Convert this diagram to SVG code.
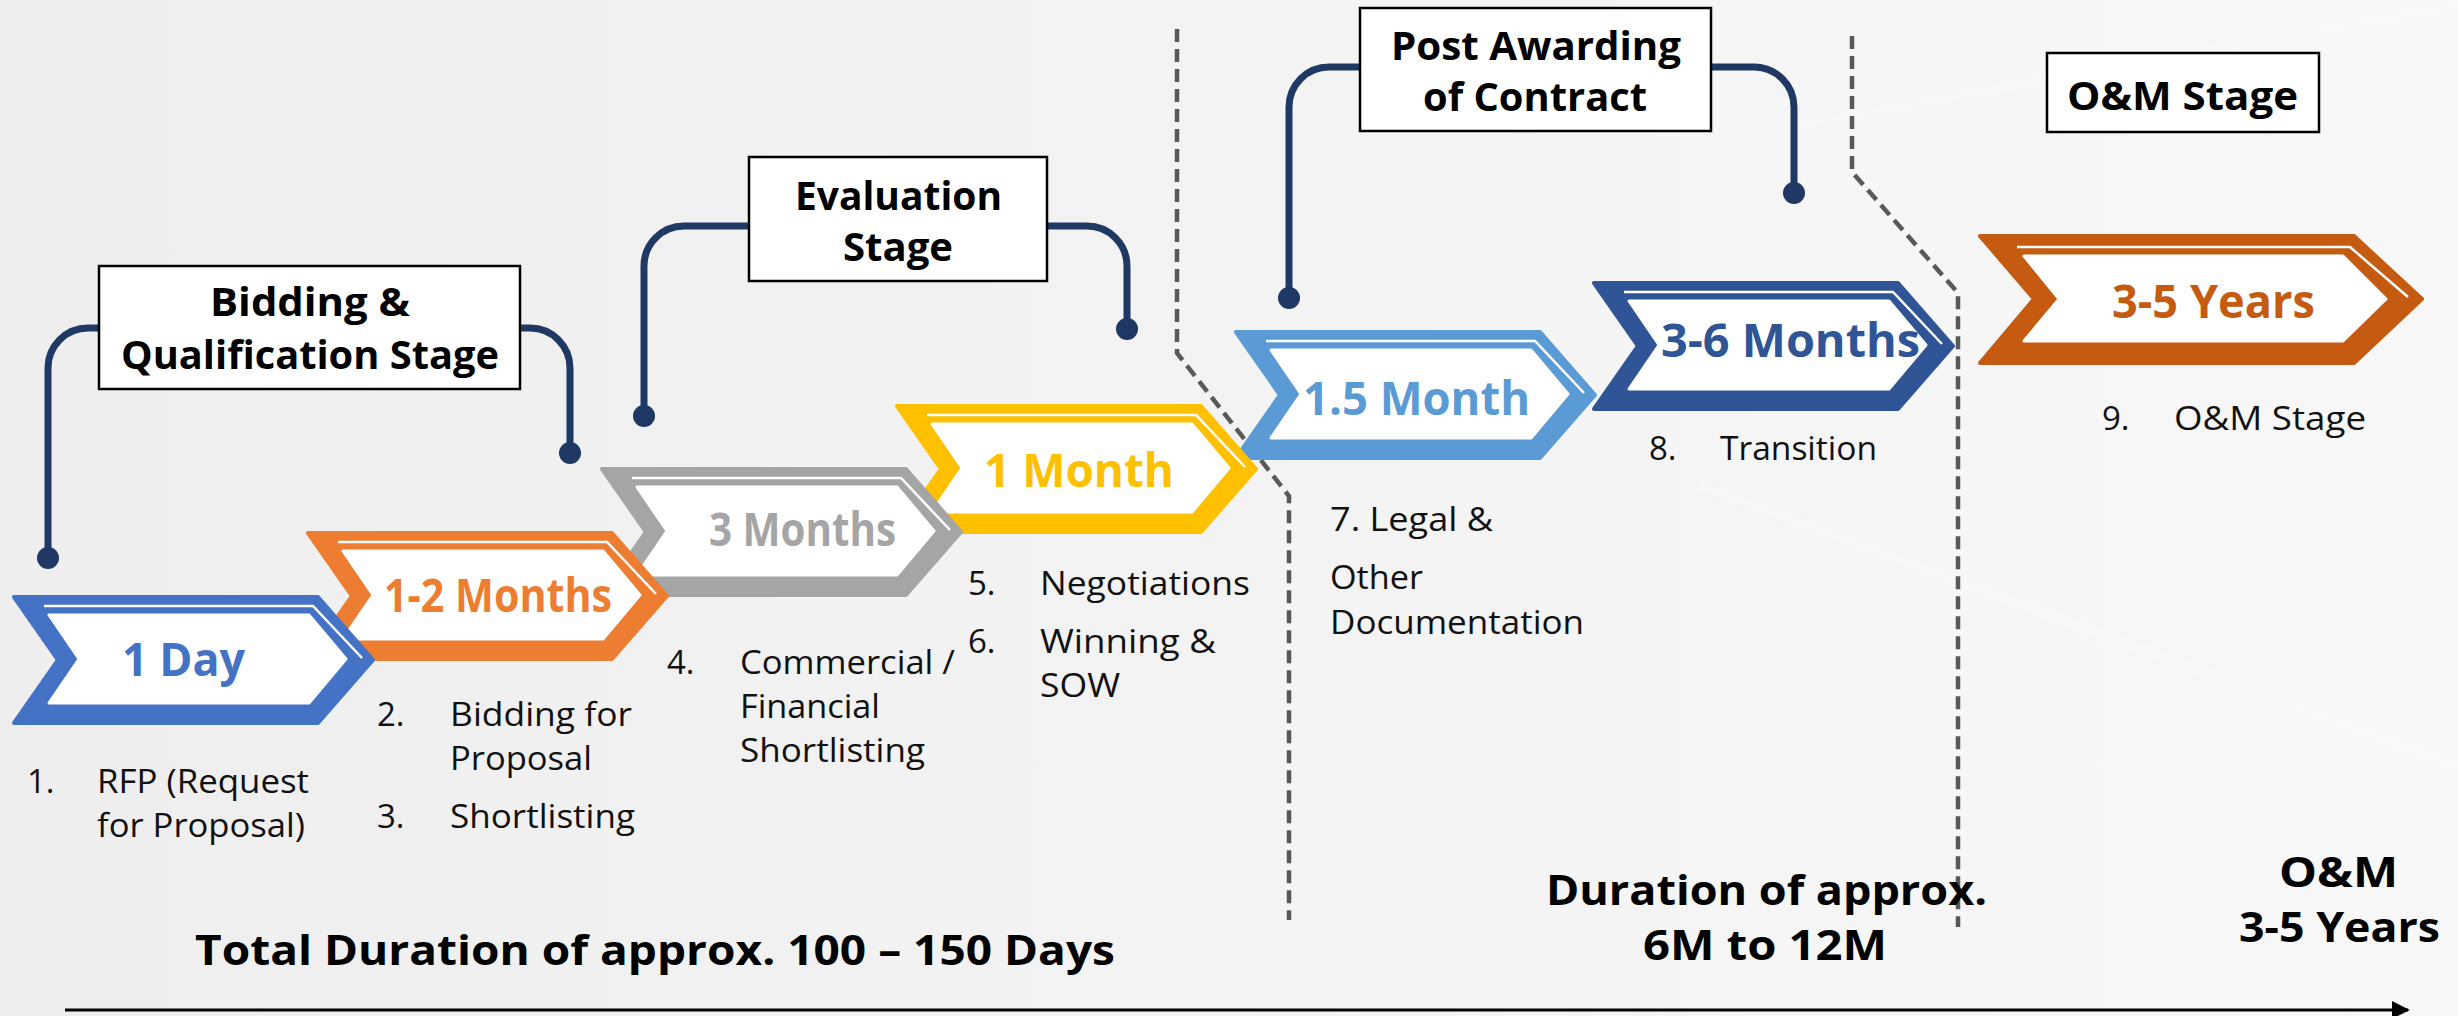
<svg xmlns="http://www.w3.org/2000/svg" xmlns:xlink="http://www.w3.org/1999/xlink" width="2458" height="1016" viewBox="0 0 2458 1016">
<style>
.bg{fill:url(#bgGrad)}
.box{fill:#ffffff;stroke:#000000;stroke-width:2.5}
.title{font-family:"Open Sans","Noto Sans",sans-serif;font-weight:700;font-size:40px;fill:#000000}
.lbl{font-family:"Open Sans","Noto Sans",sans-serif;font-weight:700;font-size:46px}
.desc{font-family:"Open Sans","Noto Sans",sans-serif;font-size:33px;fill:#111111}
.big{font-family:"Open Sans","Noto Sans",sans-serif;font-weight:700;font-size:42px;fill:#000000}
.brk{fill:none;stroke:#1F3864;stroke-width:7}
.dot{fill:#1F3864}
.dash{fill:none;stroke:#595959;stroke-width:4.5;stroke-dasharray:13 7}
.axis{fill:none;stroke:#000000;stroke-width:3}
.streak{fill:#ffffff}
</style>
<defs>
<linearGradient id="bgGrad" x1="0" y1="0" x2="1" y2="0">
<stop offset="0" stop-color="#eeeeee"/>
<stop offset="0.5" stop-color="#f3f3f3"/>
<stop offset="1" stop-color="#f8f8f8"/>
</linearGradient>
<g id="chev">
<path d="M2,2 H306 L361,65 L306,128 H2 L46,65 Z" stroke-width="4" stroke-linejoin="round"/>
<path d="M37,20 H297 L334,64 L297,108 H37 L67,64 Z" fill="#ffffff" stroke="#ffffff" stroke-width="3" stroke-linejoin="round"/>
<path d="M32,11 H301 L350,63" fill="none" stroke="#ffffff" stroke-width="2.5"/>
</g>
<g id="chevWide">
<path d="M2,2 H376 L444,65 L376,129 H2 L56,65 Z" stroke-width="4" stroke-linejoin="round"/>
<path d="M46,22 H365 L408,65 L365,107 H46 L81,65 Z" fill="#ffffff" stroke="#ffffff" stroke-width="3" stroke-linejoin="round"/>
<path d="M39,13 H372 L430,63" fill="none" stroke="#ffffff" stroke-width="2.5"/>
</g>
<marker id="arrow" viewBox="0 0 10 10" refX="9" refY="5" markerWidth="6" markerHeight="6" orient="auto" markerUnits="strokeWidth">
<path d="M0,0 L10,5 L0,10 Z" fill="#000000"/>
</marker>
</defs>

<rect class="bg" x="0" y="0" width="2458" height="1016"/>
<g id="background-streaks">
<polygon class="streak" points="1700,480 2458,760 2458,772 1700,492" opacity="0.2"/>
<polygon class="streak" points="1800,120 2458,0 2458,10 1800,130" opacity="0.2"/>
</g>

<g id="connectors">
<path class="dash" d="M1177,29 V353 L1289,496 V920"/>
<path class="dash" d="M1852,36 V172 L1958,293 V927"/>
<path class="brk" d="M99,328 H88 A40,40 0 0 0 48,368 V558"/>
<path class="brk" d="M520,328 H530 A40,40 0 0 1 570,368 V453"/>
<circle class="dot" cx="48" cy="558" r="11"/>
<circle class="dot" cx="570" cy="453" r="11"/>
<path class="brk" d="M749,226 H684 A40,40 0 0 0 644,266 V416"/>
<path class="brk" d="M1047,226 H1087 A40,40 0 0 1 1127,266 V329"/>
<circle class="dot" cx="644" cy="416" r="11"/>
<circle class="dot" cx="1127" cy="329" r="11"/>
<path class="brk" d="M1360,67 H1329 A40,40 0 0 0 1289,107 V298"/>
<path class="brk" d="M1711,67 H1754 A40,40 0 0 1 1794,107 V193"/>
<circle class="dot" cx="1289" cy="298" r="11"/>
<circle class="dot" cx="1794" cy="193" r="11"/>
<path class="axis" d="M65,1010 H2408" marker-end="url(#arrow)"/>
</g>

<g id="stage-bidding">
<rect class="box" x="99" y="266" width="421" height="123"/>
<text class="title" x="210" y="316" textLength="200" lengthAdjust="spacingAndGlyphs">Bidding &amp;</text>
<text class="title" x="121" y="369" textLength="378" lengthAdjust="spacingAndGlyphs">Qualification Stage</text>
</g>
<g id="stage-evaluation">
<rect class="box" x="749" y="157" width="298" height="124"/>
<text class="title" x="795" y="210" textLength="207" lengthAdjust="spacingAndGlyphs">Evaluation</text>
<text class="title" x="843" y="261" textLength="110" lengthAdjust="spacingAndGlyphs">Stage</text>
</g>
<g id="stage-post">
<rect class="box" x="1360" y="8" width="351" height="123"/>
<text class="title" x="1391" y="60" textLength="290" lengthAdjust="spacingAndGlyphs">Post Awarding</text>
<text class="title" x="1423" y="111" textLength="224" lengthAdjust="spacingAndGlyphs">of Contract</text>
</g>
<g id="stage-om">
<rect class="box" x="2047" y="53" width="272" height="79"/>
<text class="title" x="2067" y="110" textLength="231" lengthAdjust="spacingAndGlyphs">O&amp;M Stage</text>
</g>

<g id="step-om">
<use xlink:href="#chevWide" x="1978" y="234" fill="#C55A11" stroke="#C55A11"/>
<text class="lbl" x="2112" y="318" fill="#C55A11" textLength="203" lengthAdjust="spacingAndGlyphs">3-5 Years</text>
<text class="desc" x="2102" y="430">9.</text>
<text class="desc" x="2174" y="430" textLength="192" lengthAdjust="spacingAndGlyphs">O&amp;M Stage</text>
</g>
<g id="step-transition">
<use xlink:href="#chev" x="1592" y="281" fill="#2F5597" stroke="#2F5597"/>
<text class="lbl" x="1661" y="357" fill="#2F5597" textLength="259" lengthAdjust="spacingAndGlyphs">3-6 Months</text>
<text class="desc" x="1649" y="460">8.</text>
<text class="desc" x="1720" y="460" textLength="157" lengthAdjust="spacingAndGlyphs">Transition</text>
</g>
<g id="step-legal">
<use xlink:href="#chev" x="1234" y="330" fill="#5B9BD5" stroke="#5B9BD5"/>
<text class="lbl" x="1303" y="415" fill="#5B9BD5" textLength="227" lengthAdjust="spacingAndGlyphs">1.5 Month</text>
<text class="desc" x="1330" y="531" textLength="163" lengthAdjust="spacingAndGlyphs">7. Legal &amp;</text>
<text class="desc" x="1330" y="589" textLength="93" lengthAdjust="spacingAndGlyphs">Other</text>
<text class="desc" x="1330" y="634" textLength="254" lengthAdjust="spacingAndGlyphs">Documentation</text>
</g>
<g id="step-negotiation">
<use xlink:href="#chev" x="895" y="404" fill="#FFC000" stroke="#FFC000"/>
<text class="lbl" x="984" y="487" fill="#FFC000" textLength="190" lengthAdjust="spacingAndGlyphs">1 Month</text>
<text class="desc" x="968" y="595">5.</text>
<text class="desc" x="1040" y="595" textLength="210" lengthAdjust="spacingAndGlyphs">Negotiations</text>
<text class="desc" x="968" y="653">6.</text>
<text class="desc" x="1040" y="653" textLength="176" lengthAdjust="spacingAndGlyphs">Winning &amp;</text>
<text class="desc" x="1040" y="697" textLength="80" lengthAdjust="spacingAndGlyphs">SOW</text>
</g>
<g id="step-commercial">
<use xlink:href="#chev" x="600" y="467" fill="#A5A5A5" stroke="#A5A5A5"/>
<text class="lbl" x="709" y="546" fill="#A5A5A5" textLength="187" lengthAdjust="spacingAndGlyphs">3 Months</text>
<text class="desc" x="667" y="674">4.</text>
<text class="desc" x="740" y="674" textLength="215" lengthAdjust="spacingAndGlyphs">Commercial /</text>
<text class="desc" x="740" y="718" textLength="140" lengthAdjust="spacingAndGlyphs">Financial</text>
<text class="desc" x="740" y="762" textLength="185" lengthAdjust="spacingAndGlyphs">Shortlisting</text>
</g>
<g id="step-bidding">
<use xlink:href="#chev" x="306" y="531" fill="#ED7D31" stroke="#ED7D31"/>
<text class="lbl" x="384" y="612" fill="#ED7D31" textLength="228" lengthAdjust="spacingAndGlyphs">1-2 Months</text>
<text class="desc" x="377" y="726">2.</text>
<text class="desc" x="450" y="726" textLength="182" lengthAdjust="spacingAndGlyphs">Bidding for</text>
<text class="desc" x="450" y="770" textLength="142" lengthAdjust="spacingAndGlyphs">Proposal</text>
<text class="desc" x="377" y="828">3.</text>
<text class="desc" x="450" y="828" textLength="185" lengthAdjust="spacingAndGlyphs">Shortlisting</text>
</g>
<g id="step-rfp">
<use xlink:href="#chev" x="12" y="595" fill="#4472C4" stroke="#4472C4"/>
<text class="lbl" x="122" y="676" fill="#4472C4" textLength="123" lengthAdjust="spacingAndGlyphs">1 Day</text>
<text class="desc" x="27" y="793">1.</text>
<text class="desc" x="97" y="793" textLength="212" lengthAdjust="spacingAndGlyphs">RFP (Request</text>
<text class="desc" x="97" y="837" textLength="208" lengthAdjust="spacingAndGlyphs">for Proposal)</text>
</g>

<g id="durations">
<text class="big" x="195" y="965" textLength="920" lengthAdjust="spacingAndGlyphs">Total Duration of approx. 100 – 150 Days</text>
<text class="big" x="1546" y="905" textLength="441" lengthAdjust="spacingAndGlyphs">Duration of approx.</text>
<text class="big" x="1643" y="960" textLength="244" lengthAdjust="spacingAndGlyphs">6M to 12M</text>
<text class="big" x="2279" y="887" textLength="119" lengthAdjust="spacingAndGlyphs">O&amp;M</text>
<text class="big" x="2239" y="942" textLength="201" lengthAdjust="spacingAndGlyphs">3-5 Years</text>
</g>
</svg>
